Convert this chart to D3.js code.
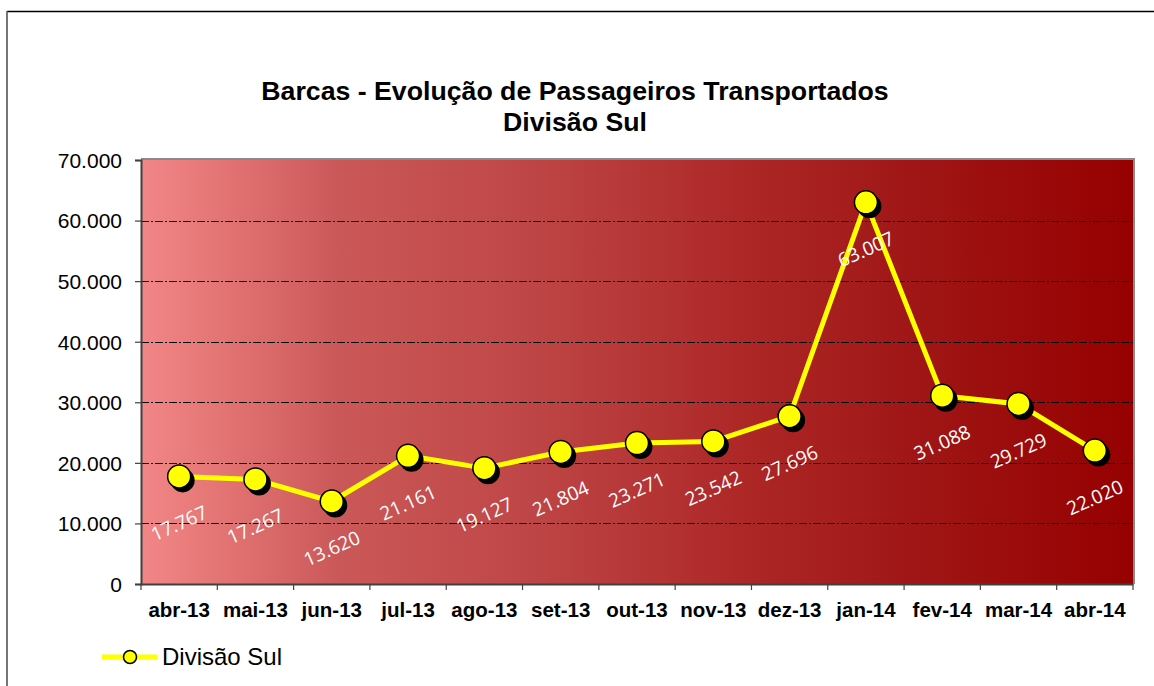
<!DOCTYPE html>
<html>
<head>
<meta charset="utf-8">
<script src="https://cdn.jsdelivr.net/npm/d3@7/dist/d3.min.js"></script>
<style>
  html, body { margin: 0; padding: 0; background: #fff; }
  svg { display: block; }
</style>
</head>
<body>
<svg id="chart" width="1154" height="686"></svg>
<script>
const categories = ["abr-13","mai-13","jun-13","jul-13","ago-13","set-13","out-13","nov-13","dez-13","jan-14","fev-14","mar-14","abr-14"];
const values = [17767,17267,13620,21161,19127,21804,23271,23542,27696,63007,31088,29729,22020];
const yTicks = [0,10000,20000,30000,40000,50000,60000,70000];
const seriesName = "Divisão Sul";
const titleLines = ["Barcas - Evolução de Passageiros Transportados", "Divisão Sul"];

const svg = d3.select("#chart");
const W = 1154, H = 686;
const m = {left: 141, right: 1133, top: 160, bottom: 584};

const loc = d3.formatLocale({decimal: ",", thousands: ".", grouping: [3], currency: ["", ""]});
const fmt = loc.format(",d");

// outer frame
svg.append("line").attr("x1", 7).attr("x2", W).attr("y1", 11.5).attr("y2", 11.5)
  .attr("stroke", "#000").attr("stroke-width", 1.3);
svg.append("line").attr("x1", 7).attr("x2", 7).attr("y1", 11).attr("y2", H)
  .attr("stroke", "#555").attr("stroke-width", 1.6);

// gradient
const defs = svg.append("defs");
const grad = defs.append("linearGradient").attr("id", "bg").attr("x1", "0%").attr("x2", "100%").attr("y1", "0%").attr("y2", "0%");
[[0, "#F28686"], [0.1, "#E07070"], [0.2, "#CB5858"], [0.4, "#BE4545"], [0.6, "#AE2828"], [0.78, "#A01616"], [1, "#960000"]]
  .forEach(([o, c]) => grad.append("stop").attr("offset", o).attr("stop-color", c));

const x = d3.scaleBand().domain(categories).range([m.left, m.right]).padding(0);
const y = d3.scaleLinear().domain([0, 70000]).range([m.bottom, m.top]);

// plot area with gray top/right edge
svg.append("rect").attr("x", m.left).attr("y", m.top - 2).attr("width", m.right - m.left + 2).attr("height", m.bottom - m.top + 2)
  .attr("fill", "#8a8a8a");
svg.append("rect").attr("x", m.left).attr("y", m.top).attr("width", m.right - m.left).attr("height", m.bottom - m.top)
  .attr("fill", "url(#bg)");

// gridlines
svg.append("g").selectAll("line").data(yTicks.filter(t => t > 0 && t < 70000)).join("line")
  .attr("x1", m.left).attr("x2", m.right)
  .attr("y1", d => Math.round(y(d)) + 0.5).attr("y2", d => Math.round(y(d)) + 0.5)
  .attr("stroke", "#000").attr("stroke-width", 1).attr("stroke-dasharray", "8,2,2,2");

// y axis
const yAxis = svg.append("g").attr("transform", `translate(${m.left},0)`)
  .call(d3.axisLeft(y).tickValues(yTicks).tickFormat(fmt).tickSize(6).tickPadding(13));
yAxis.select(".domain").attr("stroke", "#404040").attr("stroke-width", 2);
yAxis.selectAll(".tick line").attr("stroke", "#404040").attr("stroke-width", 1.2);
yAxis.selectAll("text").attr("font-family", "Liberation Sans, Arial, sans-serif").attr("font-size", 21).attr("fill", "#000").attr("dy", "0.35em");

// x axis
const xAxis = svg.append("g").attr("transform", `translate(0,${m.bottom})`)
  .call(d3.axisBottom(x).tickSize(0).tickPadding(0));
xAxis.select(".domain").attr("stroke", "#404040").attr("stroke-width", 2);
xAxis.selectAll("text").attr("font-family", "Liberation Sans, Arial, sans-serif").attr("font-size", 20.5)
  .attr("font-weight", "bold").attr("fill", "#000").attr("y", 33).attr("dy", 0);
const bounds = categories.map(c => x(c)).concat([m.right]);
svg.append("g").selectAll("line").data(bounds).join("line")
  .attr("x1", d => d).attr("x2", d => d).attr("y1", m.bottom).attr("y2", m.bottom + 6)
  .attr("stroke", "#404040").attr("stroke-width", 1.2);

// series
const cx = c => x(c) + x.bandwidth() / 2;
const pts = categories.map((c, i) => ({c, v: values[i]}));
const line = d3.line().x(d => cx(d.c)).y(d => y(d.v));
svg.append("path").datum(pts).attr("d", line).attr("fill", "none")
  .attr("stroke", "#FFFF00").attr("stroke-width", 5).attr("stroke-linejoin", "round");

svg.append("g").selectAll("circle").data(pts).join("circle")
  .attr("cx", d => cx(d.c) + 3.5).attr("cy", d => y(d.v) + 4).attr("r", 12).attr("fill", "#000");
svg.append("g").selectAll("circle").data(pts).join("circle")
  .attr("cx", d => cx(d.c)).attr("cy", d => y(d.v)).attr("r", 11.5)
  .attr("fill", "#FFFF00").attr("stroke", "#000").attr("stroke-width", 1.5);

// data labels
svg.append("g").selectAll("text").data(pts).join("text")
  .attr("transform", d => `translate(${cx(d.c)},${y(d.v) + 47}) rotate(-24)`)
  .attr("text-anchor", "middle").attr("dy", "0.35em")
  .attr("font-family", "Open Sans, Carlito, sans-serif").attr("font-size", 19)
  .attr("fill", "#fff").text(d => fmt(d.v));

// title
const title = svg.append("text").attr("text-anchor", "middle")
  .attr("font-family", "Liberation Sans, Arial, sans-serif").attr("font-weight", "bold").attr("font-size", 26.7).attr("fill", "#000");
title.append("tspan").attr("x", 575).attr("y", 100).text(titleLines[0]);
title.append("tspan").attr("x", 575).attr("y", 131).text(titleLines[1]);

// legend
const lg = svg.append("g");
lg.append("line").attr("x1", 102).attr("x2", 157).attr("y1", 657).attr("y2", 657)
  .attr("stroke", "#FFFF00").attr("stroke-width", 5);
lg.append("circle").attr("cx", 130).attr("cy", 657).attr("r", 6.5)
  .attr("fill", "#FFFF00").attr("stroke", "#000").attr("stroke-width", 1.5);
lg.append("text").attr("x", 162).attr("y", 665).attr("font-family", "Liberation Sans, Arial, sans-serif")
  .attr("font-size", 24).attr("fill", "#000").text(seriesName);
</script>
</body>
</html>
